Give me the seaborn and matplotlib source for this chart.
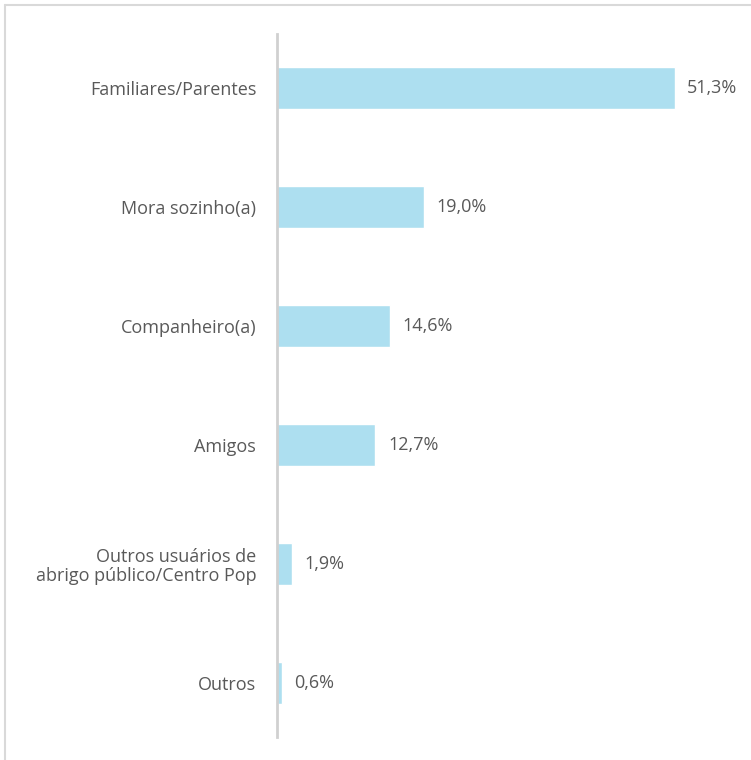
import matplotlib
matplotlib.use("Agg")
import matplotlib.pyplot as plt
import seaborn as sns
import pandas as pd
from matplotlib.lines import Line2D

categories = ["Familiares/Parentes", "Mora sozinho(a)", "Companheiro(a)", "Amigos",
              "Outros usuários de\nabrigo público/Centro Pop", "Outros"]
values = [51.3, 19.0, 14.6, 12.7, 1.9, 0.6]
value_labels = ["51,3%", "19,0%", "14,6%", "12,7%", "1,9%", "0,6%"]

sns.set_theme(style="white")
plt.rcParams['font.family'] = ['Open Sans', 'DejaVu Sans']

df = pd.DataFrame({"cat": categories, "val": values})

fig = plt.figure(figsize=(7.51, 7.60), dpi=100)
ax = fig.add_axes([277/751, 1-737/760, 462/751, (737-34)/760])

sns.barplot(data=df, x="val", y="cat", orient="h", color="#ADDFF0",
            saturation=1, width=0.35, ax=ax)

ax.set_xlim(0, 59.6)
ax.set_ylim(5.454, -0.454)
ax.set_xlabel("")
ax.set_ylabel("")
ax.set_xticks([])
for s in ["top", "right", "bottom"]:
    ax.spines[s].set_visible(False)
ax.spines["left"].set_color("#D0D0D0")
ax.spines["left"].set_linewidth(2)
ax.tick_params(axis="y", length=0, pad=15, labelsize=13, labelcolor="#595959")
for lab in ax.get_yticklabels():
    lab.set_horizontalalignment("right")
    lab.set_multialignment("right")
    lab.set_linespacing(1.05)

for i, (v, t) in enumerate(zip(values, value_labels)):
    ax.annotate(t, xy=(v, i), xytext=(9, 0), textcoords="offset points",
                va="center", ha="left", fontsize=13, color="#595959")

fig.add_artist(Line2D([5/751, 1], [1-4.5/760, 1-4.5/760], transform=fig.transFigure,
                      color="#D9D9D9", lw=1.5))
fig.add_artist(Line2D([5/751, 5/751], [0, 1-4.5/760], transform=fig.transFigure,
                      color="#D9D9D9", lw=1.5))

fig.savefig("out.png", dpi=100)
